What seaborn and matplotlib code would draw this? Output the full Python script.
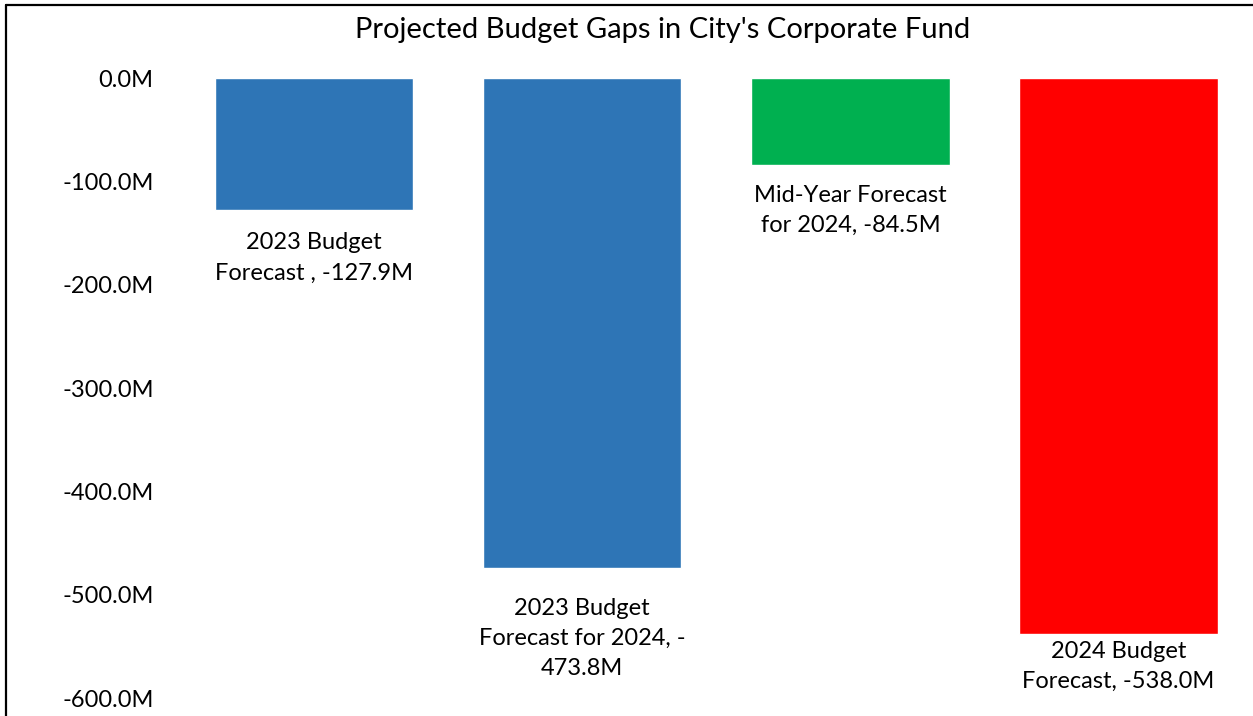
import numpy as np
import pandas as pd
import seaborn as sns
import matplotlib.pyplot as plt
from matplotlib.lines import Line2D

# Data
categories = ['2023 Budget', '2023 Budget 2024', 'Mid-Year 2024', '2024 Budget']
gaps = [-127.9, -473.8, -84.5, -538.0]
bar_labels = ['2023 Budget\nForecast , -127.9M',
              '2023 Budget\nForecast for 2024, -\n473.8M',
              'Mid-Year Forecast\nfor 2024, -84.5M',
              '2024 Budget\nForecast, -538.0M']
colors = ['#2E75B6', '#2E75B6', '#00B050', '#FF0000']
yticks = [0, -100, -200, -300, -400, -500, -600]

sns.set_style('white')
plt.rcParams['font.family'] = ['Lato', 'DejaVu Sans']
plt.rcParams['text.color'] = 'black'
plt.rcParams['ytick.color'] = 'black'

df = pd.DataFrame({'category': categories, 'gap': gaps})

fig = plt.figure(figsize=(12.53, 7.16), dpi=100)
ax = fig.add_axes([0.1437, 0.025, 0.856, 0.866])

sns.barplot(data=df, x='category', y='gap', hue='category', palette=colors,
            width=0.74, legend=False, saturation=1, ax=ax)

ax.set_ylim(-600, 0)
ax.set_yticks(yticks)
ax.set_yticklabels([f'{v:.1f}M' for v in yticks], fontsize=17)
ax.set_xticks([])
ax.set_xlabel('')
ax.set_ylabel('')
ax.tick_params(axis='y', length=0, pad=19, labelcolor='black')
for s in ax.spines.values():
    s.set_visible(False)

# Data labels below each bar
offsets = [16, 21.5, 14, 5]
for i, (v, lab) in enumerate(zip(gaps, bar_labels)):
    ax.annotate(lab, xy=(i, v), xytext=(0, -offsets[i]), textcoords='offset points',
                ha='center', va='top', fontsize=17, linespacing=1.55, color='black')

fig.text(0.529, 0.958, "Projected Budget Gaps in City's Corporate Fund",
         ha='center', va='center', fontsize=21, color='black')

# Chart area frame (left and top edges visible)
fig.add_artist(Line2D([6 / 1253, 6 / 1253], [0, 1 - 5 / 716], color='black', lw=1.6,
                      transform=fig.transFigure))
fig.add_artist(Line2D([6 / 1253, 1], [1 - 5 / 716, 1 - 5 / 716], color='black', lw=1.6,
                      transform=fig.transFigure))

fig.savefig('out.png', dpi=100)
